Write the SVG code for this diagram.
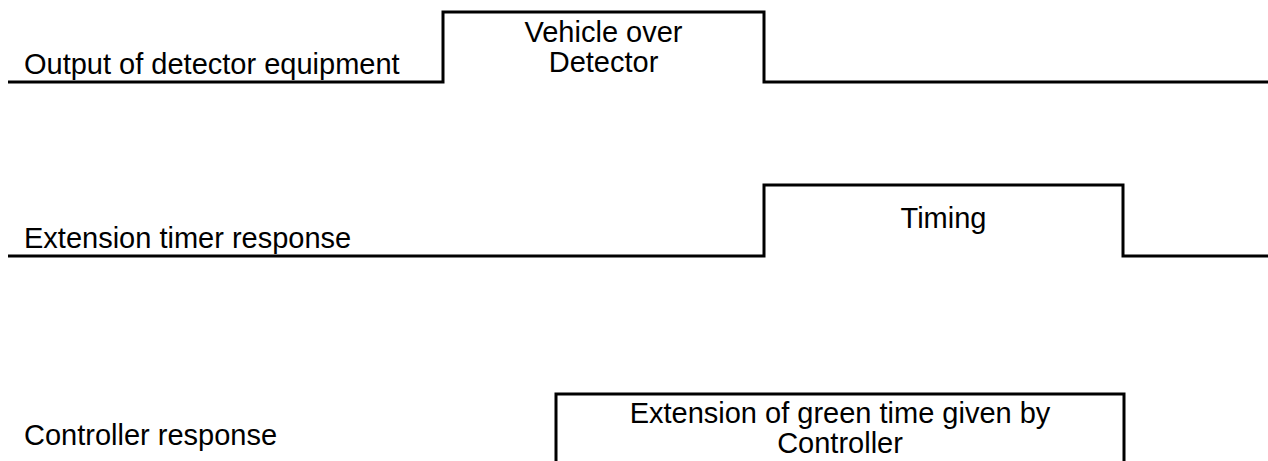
<svg xmlns="http://www.w3.org/2000/svg" width="1268" height="461" viewBox="0 0 1268 461">
<style>
.sig{fill:none;stroke:#000;stroke-width:3;stroke-linejoin:miter}
text{font-family:"Liberation Sans",Arial,sans-serif;font-size:29px;fill:#000}
.c{text-anchor:middle}
</style>
<rect width="1268" height="461" fill="#fff"/>
<g id="connectors">
<path id="sig1" class="sig" d="M8 82 H443 V12 H764 V82 H1268"/>
<path id="sig2" class="sig" d="M8 256 H764 V185 H1123 V256 H1268"/>
<path id="sig3" class="sig" d="M556 470 V394 H1124 V470"/>
</g>
<g id="row1">
<text x="24" y="74">Output of detector equipment</text>
<text class="c" x="603.5" y="42">Vehicle over</text>
<text class="c" x="603.5" y="72">Detector</text>
</g>
<g id="row2">
<text x="24" y="248">Extension timer response</text>
<text class="c" x="943.5" y="228">Timing</text>
</g>
<g id="row3">
<text x="24" y="445">Controller response</text>
<text class="c" x="840" y="423">Extension of green time given by</text>
<text class="c" x="840" y="453">Controller</text>
</g>
</svg>
